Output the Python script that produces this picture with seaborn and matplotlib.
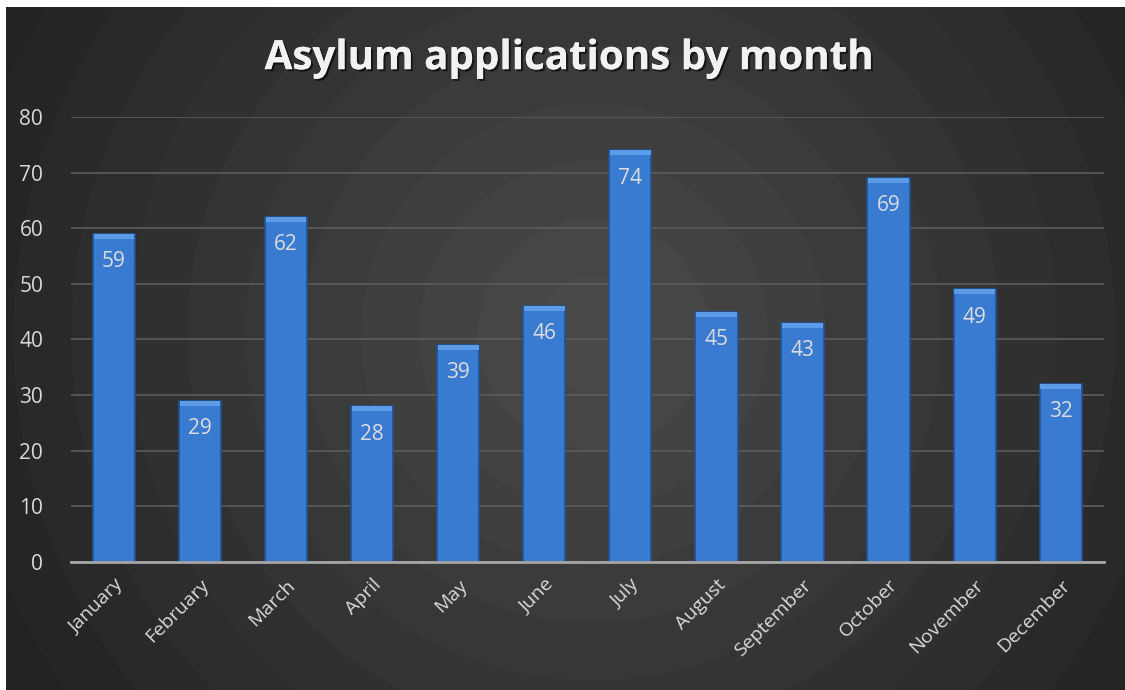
import numpy as np
import pandas as pd
import seaborn as sns
import matplotlib.pyplot as plt
import matplotlib.patheffects as pe

months = ['January', 'February', 'March', 'April', 'May', 'June', 'July',
          'August', 'September', 'October', 'November', 'December']
applications = [59, 29, 62, 28, 39, 46, 74, 45, 43, 69, 49, 32]
yticks = [0, 10, 20, 30, 40, 50, 60, 70, 80]

df = pd.DataFrame({'month': months, 'applications': applications})

sns.set_style('white')
plt.rcParams['font.family'] = ['Open Sans', 'DejaVu Sans']

fig = plt.figure(figsize=(11.25, 6.9), dpi=100)
fig.patch.set_facecolor('white')

# dark radial background, banded a bit like the original
bg = fig.add_axes([0, 0, 1, 1], zorder=0)
bg.set_axis_off()
h, w = 690, 1125
yy, xx = np.mgrid[0:h, 0:w]
r = np.sqrt((xx - 590) ** 2 + (yy - 330) ** 2) / 700
r = np.floor(r * 12) / 12
shade = np.clip(0.29 - 0.17 * r, 0.13, 0.29)
img = np.dstack([shade, shade, shade])
bg.imshow(img, extent=[6, 1125, 0, 683], aspect='auto', origin='upper')
bg.set_xlim(0, 1125)
bg.set_ylim(0, 690)

ax = fig.add_axes([0.0631, 0.1855, 0.918, 0.645], zorder=1)
ax.set_facecolor('none')
sns.barplot(data=df, x='month', y='applications', color='#3a7bd2',
            width=0.49, saturation=1, edgecolor='#22528f', linewidth=1.2,
            ax=ax, zorder=3)

for p, v in zip(ax.patches, applications):
    x = p.get_x() + p.get_width() / 2
    ax.annotate(str(v), (x, v), xytext=(0, -20), textcoords='offset points',
                ha='center', va='center', fontsize=15, color='#dcdcdc', zorder=4)
    # lighter bevel on top
    ax.bar(x, 0.9, bottom=v - 0.9, width=p.get_width() * 0.96,
           color='#5b9be8', zorder=3.5, linewidth=0)

ax.set_ylim(0, 80)
ax.set_xlim(-0.5, len(months) - 0.5)
ax.set_yticks(yticks)
ax.yaxis.grid(True, color='#5c5c5c', linewidth=1.2)
ax.set_axisbelow(True)
for s in ['top', 'right', 'left']:
    ax.spines[s].set_visible(False)
ax.spines['bottom'].set_color('#a6a6a6')
ax.spines['bottom'].set_linewidth(2)
ax.spines['bottom'].set_zorder(5)
ax.tick_params(axis='x', length=0, colors='#d9d9d9', labelsize=14, pad=10)
ax.tick_params(axis='y', length=0, colors='#d9d9d9', labelsize=15, pad=20)
plt.setp(ax.get_xticklabels(), rotation=45, ha='right', rotation_mode='anchor')
ax.set_xlabel('')
ax.set_ylabel('')

fig.text(0.505, 0.915, 'Asylum applications by month', ha='center', va='center',
         fontsize=29, fontweight='bold', color='#f2f2f2',
         path_effects=[pe.withSimplePatchShadow(offset=(1.5, -1.5), shadow_rgbFace='black', alpha=0.6),
                       pe.Normal()])

fig.savefig('out.png', dpi=100)
